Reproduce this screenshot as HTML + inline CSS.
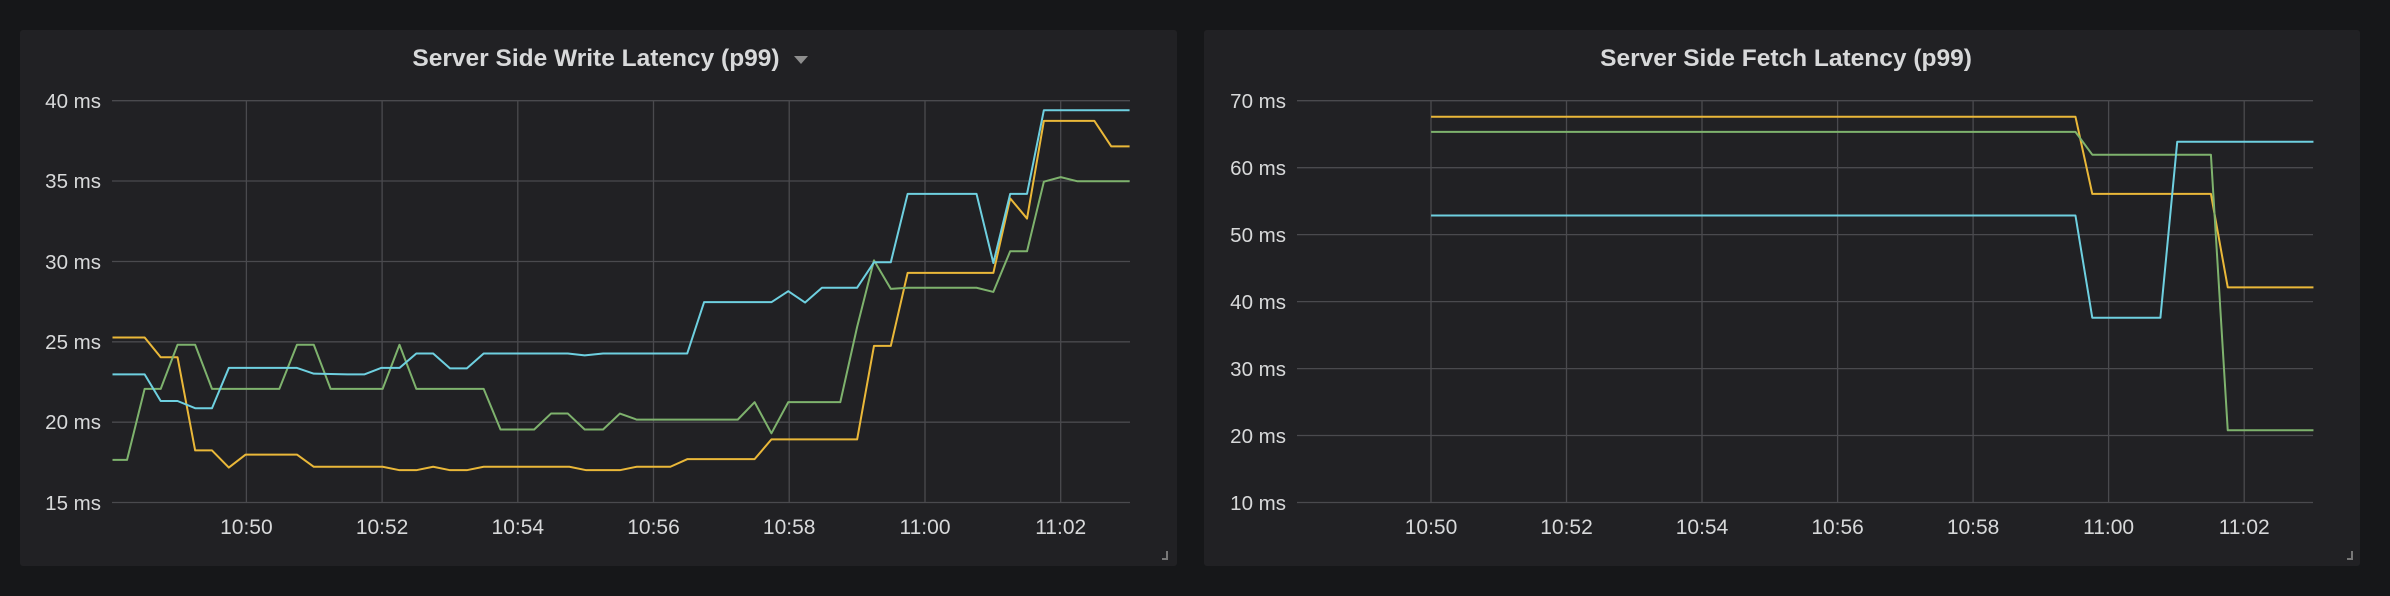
<!DOCTYPE html>
<html><head><meta charset="utf-8"><style>
html,body{margin:0;padding:0;background:#161719;}
svg{display:block}
text{font-family:"Liberation Sans",sans-serif;fill:#d8d9da}
.yl{font-size:20.5px;text-anchor:end}
.xl{font-size:21px;text-anchor:middle}
.t{font-size:24.5px;font-weight:bold;text-anchor:middle}
.g line{stroke:#4a4a4e;stroke-width:1.3}
polyline{fill:none;stroke-width:2;vector-effect:non-scaling-stroke;stroke-linejoin:round}
</style></head><body>
<svg width="2390" height="596" viewBox="0 0 2390 596">
<rect width="2390" height="596" fill="#161719"/>
<rect x="20" y="30" width="1157" height="536" fill="#212124" rx="3"/>
<rect x="1204" y="30" width="1156" height="536" fill="#212124" rx="3"/>

<!-- Left panel -->
<text class="t" x="596" y="66">Server Side Write Latency (p99)</text>
<polygon points="794,56 808,56 801,64" fill="#8e8e8e"/>
<g class="g">
<line x1="112" x2="1130" y1="100.7" y2="100.7"/>
<line x1="112" x2="1130" y1="181" y2="181"/>
<line x1="112" x2="1130" y1="261.5" y2="261.5"/>
<line x1="112" x2="1130" y1="341.8" y2="341.8"/>
<line x1="112" x2="1130" y1="422.2" y2="422.2"/>
<line x1="112" x2="1130" y1="502.5" y2="502.5"/>
<line y1="100" y2="503" x1="246.4" x2="246.4"/>
<line y1="100" y2="503" x1="382.1" x2="382.1"/>
<line y1="100" y2="503" x1="517.8" x2="517.8"/>
<line y1="100" y2="503" x1="653.5" x2="653.5"/>
<line y1="100" y2="503" x1="789.2" x2="789.2"/>
<line y1="100" y2="503" x1="925" x2="925"/>
<line y1="100" y2="503" x1="1060.7" x2="1060.7"/>
</g>
<text class="yl" x="101" y="108">40 ms</text>
<text class="yl" x="101" y="188">35 ms</text>
<text class="yl" x="101" y="269">30 ms</text>
<text class="yl" x="101" y="349">25 ms</text>
<text class="yl" x="101" y="429">20 ms</text>
<text class="yl" x="101" y="510">15 ms</text>
<text class="xl" x="246.4" y="534">10:50</text>
<text class="xl" x="382.1" y="534">10:52</text>
<text class="xl" x="517.8" y="534">10:54</text>
<text class="xl" x="653.5" y="534">10:56</text>
<text class="xl" x="789.2" y="534">10:58</text>
<text class="xl" x="925" y="534">11:00</text>
<text class="xl" x="1060.7" y="534">11:02</text>
<g transform="scale(0.7653,0.3801)">
<polyline stroke="#eab839" points="147,888 189,888 210,940 232,940 255,1185 277,1185 299,1230 321,1196 388,1196 410,1228 500,1228 522,1237 544,1237 566,1228 588,1237 610,1237 632,1228 744,1228 766,1237 810,1237 832,1228 876,1228 898,1208 986,1208 1008,1156 1120,1156 1142,910 1164,910 1186,718 1298,718 1320,522 1342,575 1364,318 1430,318 1452,385 1476,385"/>
<polyline stroke="#7eb26d" points="147,1210 166,1210 189,1023 210,1023 232,907 255,907 277,1023 365,1023 388,907 410,907 432,1023 500,1023 522,907 544,1023 632,1023 654,1130 698,1130 720,1088 742,1088 764,1130 788,1130 810,1088 832,1104 964,1104 986,1058 1008,1140 1030,1058 1098,1058 1120,860 1142,685 1164,760 1186,757 1276,757 1298,768 1320,661 1342,661 1364,478 1386,466 1408,477 1476,477"/>
<polyline stroke="#6ed0e0" points="147,985 189,985 210,1055 232,1055 255,1074 277,1074 299,968 388,968 410,983 454,985 476,985 498,968 522,968 544,930 566,930 588,969 610,969 632,930 742,930 764,935 788,930 898,930 920,795 1008,795 1030,766 1052,796 1074,757 1120,757 1142,690 1164,690 1186,510 1276,510 1298,692 1320,510 1342,510 1364,290 1476,290"/>
</g>
<path d="M1162 560 h6 v-9 h-2 v7 h-4z" fill="#777"/>

<!-- Right panel -->
<text class="t" x="1786" y="66">Server Side Fetch Latency (p99)</text>
<g class="g">
<line x1="1297" x2="2313" y1="100.7" y2="100.7"/>
<line x1="1297" x2="2313" y1="167.7" y2="167.7"/>
<line x1="1297" x2="2313" y1="234.6" y2="234.6"/>
<line x1="1297" x2="2313" y1="301.6" y2="301.6"/>
<line x1="1297" x2="2313" y1="368.6" y2="368.6"/>
<line x1="1297" x2="2313" y1="435.5" y2="435.5"/>
<line x1="1297" x2="2313" y1="502.5" y2="502.5"/>
<line y1="100" y2="503" x1="1431" x2="1431"/>
<line y1="100" y2="503" x1="1566.5" x2="1566.5"/>
<line y1="100" y2="503" x1="1702" x2="1702"/>
<line y1="100" y2="503" x1="1837.6" x2="1837.6"/>
<line y1="100" y2="503" x1="1973.1" x2="1973.1"/>
<line y1="100" y2="503" x1="2108.6" x2="2108.6"/>
<line y1="100" y2="503" x1="2244.2" x2="2244.2"/>
</g>
<text class="yl" x="1286" y="108">70 ms</text>
<text class="yl" x="1286" y="175">60 ms</text>
<text class="yl" x="1286" y="242">50 ms</text>
<text class="yl" x="1286" y="309">40 ms</text>
<text class="yl" x="1286" y="376">30 ms</text>
<text class="yl" x="1286" y="443">20 ms</text>
<text class="yl" x="1286" y="510">10 ms</text>
<text class="xl" x="1431" y="534">10:50</text>
<text class="xl" x="1566.5" y="534">10:52</text>
<text class="xl" x="1702" y="534">10:54</text>
<text class="xl" x="1837.6" y="534">10:56</text>
<text class="xl" x="1973.1" y="534">10:58</text>
<text class="xl" x="2108.6" y="534">11:00</text>
<text class="xl" x="2244.2" y="534">11:02</text>
<g transform="translate(1190,0) scale(0.7653,0.3801)">
<polyline stroke="#eab839" points="315,307 1157,307 1179,510 1334,510 1356,756 1468,756"/>
<polyline stroke="#7eb26d" points="315,347 1157,347 1179,407 1334,407 1356,1132 1468,1132"/>
<polyline stroke="#6ed0e0" points="315,567 1157,567 1179,836 1268,836 1290,373 1468,373"/>
</g>
<path d="M2347 560 h6 v-9 h-2 v7 h-4z" fill="#777"/>
</svg>
</body></html>
